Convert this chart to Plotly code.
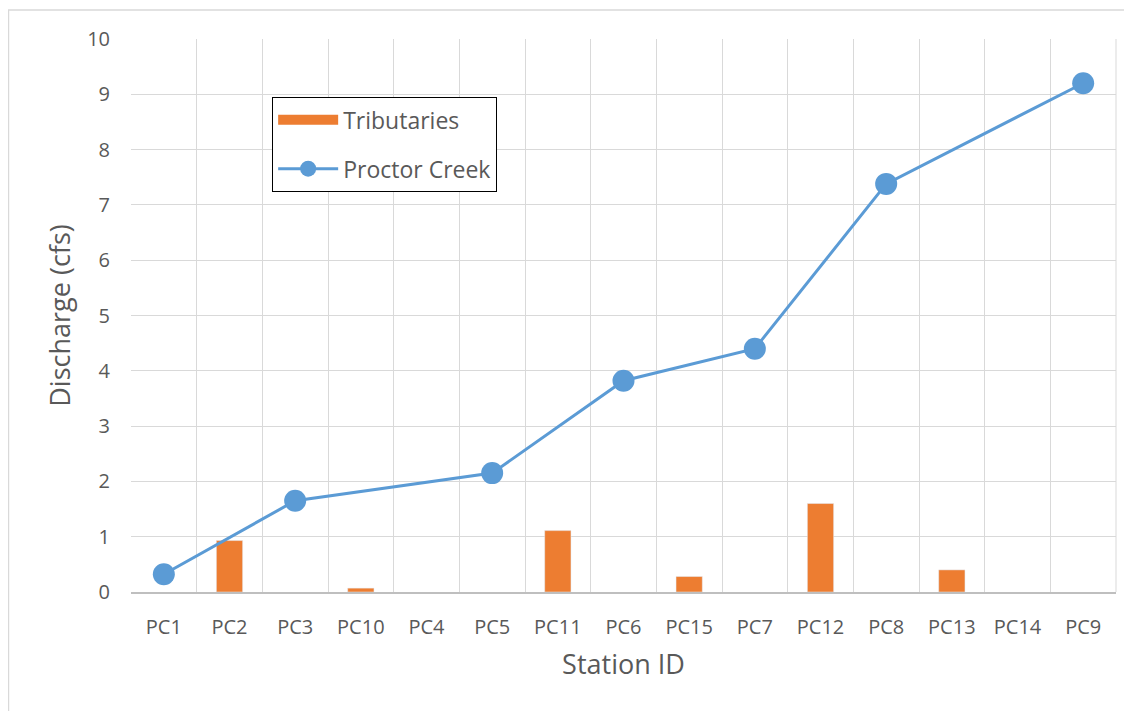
import plotly.graph_objects as go

stations = ["PC1", "PC2", "PC3", "PC10", "PC4", "PC5", "PC11", "PC6", "PC15",
            "PC7", "PC12", "PC8", "PC13", "PC14", "PC9"]
tributaries = [None, 0.93, None, 0.07, None, None, 1.11, None, 0.28,
               None, 1.60, None, 0.40, None, None]
proctor_creek = [0.32, None, 1.65, None, None, 2.15, None, 3.82, None,
                 4.40, None, 7.38, None, None, 9.20]

FONT = "'Open Sans', sans-serif"
GRAY = "#595959"
ORANGE = "#ED7D31"
BLUE = "#5B9BD5"

fig = go.Figure()
fig.add_trace(go.Bar(x=stations, y=tributaries, name="Tributaries",
                     marker=dict(color=ORANGE), showlegend=False))
# legend swatch for the bars (wide rectangle, Excel style)
fig.add_trace(go.Scatter(x=[None], y=[None], name="Tributaries", mode="lines",
                         line=dict(color=ORANGE, width=15), legendgroup="a"))
fig.add_trace(go.Scatter(x=stations, y=proctor_creek, name="Proctor Creek",
                         mode="lines+markers", connectgaps=True,
                         line=dict(color=BLUE, width=3),
                         marker=dict(color=BLUE, size=22), legendgroup="b"))

fig.update_layout(
    width=1124, height=703,
    margin=dict(l=123, r=16, t=31, b=119, autoexpand=False),
    paper_bgcolor="white", plot_bgcolor="white",
    bargap=0.6,
    font=dict(family=FONT, color=GRAY),
    legend=dict(x=0.143, y=0.895, xanchor="left", yanchor="top",
                bgcolor="white", bordercolor="black", borderwidth=1.3,
                font=dict(size=23, color=GRAY, family=FONT),
                itemwidth=60, tracegroupgap=16, traceorder="grouped"),
    xaxis=dict(type="category", tickson="boundaries", showgrid=True,
               range=[-0.5, 14.5], autorange=False,
               gridcolor="#d9d9d9", gridwidth=1, showline=True,
               linecolor="#bfbfbf", linewidth=1.5, ticks="", automargin=False,
               tickfont=dict(size=20, color=GRAY), ticklabelstandoff=16,
               title=dict(text="Station ID", font=dict(size=27, color=GRAY),
                          standoff=16)),
    yaxis=dict(range=[0, 10], dtick=1, showgrid=True, gridcolor="#d9d9d9",
               gridwidth=1, zeroline=False, showline=False, ticks="",
               automargin=False,
               tickfont=dict(size=20, color=GRAY), ticklabelstandoff=20,
               title=dict(text="Discharge (cfs)", font=dict(size=27, color=GRAY),
                          standoff=8)),
    shapes=[dict(type="rect", xref="paper", yref="paper",
                 x0=-0.1244, x1=1.2, y0=-0.4, y1=1.0524,
                 line=dict(color="#d9d9d9", width=1.5), layer="below"),
            dict(type="line", xref="paper", yref="paper",
                 x0=1, x1=1, y0=0, y1=1,
                 line=dict(color="#d9d9d9", width=1))],
)

fig.write_html("out.html")
